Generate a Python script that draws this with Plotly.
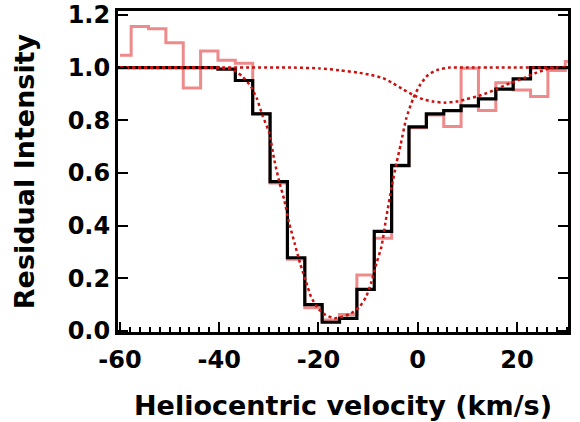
import plotly.graph_objects as go

# ---- data ----
bin_centers = [-59.5, -56, -52.5, -49, -45.5, -42, -38.5, -35, -31.5, -28, -24.5, -21,
               -17.5, -14, -10.5, -7, -3.5, 0, 3.5, 7, 10.5, 14, 17.5, 21, 24.5, 28, 31.5]
bin_width = 3.5

black_intensity = [1.0, 1.0, 1.0, 1.0, 1.0, 1.0, 0.994, 0.951, 0.824, 0.567, 0.278, 0.100,
                   0.033, 0.048, 0.158, 0.378, 0.628, 0.775, 0.824, 0.837, 0.855, 0.881,
                   0.918, 0.957, 1.0, 1.0, 1.0]

pink_start = -60.0
pink_intensity = [1.047, 1.156, 1.148, 1.094, 0.923, 1.063, 1.028, 1.017, 0.826, 0.562,
                  0.272, 0.088, 0.042, 0.062, 0.212, 0.352, 0.630, 0.772, 0.820, 0.776,
                  0.998, 0.837, 0.943, 0.915, 0.890, 0.989, 1.023]

deep_model_v = [-60, -42, -40, -38, -36.6, -35.3, -33.6, -32.4, -31.3, -29.9, -28.9, -27.9,
                -26.9, -25.9, -24.8, -23.7, -22.5, -21.5, -20.1, -18.6, -16.8, -15.1, -13.4,
                -11.7, -10.4, -9.4, -8.3, -7.3, -6.3, -5.2, -4.3, -3.4, -2.3, -0.9, 0.5, 2.1,
                4.1, 6.5, 10, 30]
deep_model_i = [1.0, 1.0, 0.998, 0.995, 0.985, 0.966, 0.928, 0.882, 0.820, 0.751, 0.649, 0.567,
                0.498, 0.409, 0.333, 0.257, 0.187, 0.130, 0.086, 0.061, 0.048, 0.054, 0.067,
                0.092, 0.130, 0.181, 0.257, 0.320, 0.434, 0.55, 0.635, 0.71, 0.807, 0.883,
                0.935, 0.972, 0.992, 1.0, 1.0, 1.0]

broad_model_v = [-60, -25, -19.8, -15.8, -11.7, -9.4, -7.0, -5.0, -3.0, -0.9, 1.1, 3.1, 5.5,
                 7.8, 9.8, 11.9, 13.9, 15.9, 18.6, 21.3, 24.0, 26.7, 30]
broad_model_i = [1.0, 1.0, 0.997, 0.990, 0.980, 0.972, 0.960, 0.941, 0.918, 0.896, 0.880,
                 0.871, 0.867, 0.871, 0.880, 0.890, 0.903, 0.918, 0.941, 0.960, 0.981, 0.997,
                 1.0]

x_ticks = [-60, -40, -20, 0, 20]
x_tick_labels = ["-60", "-40", "-20", "0", "20"]
y_ticks = [0.0, 0.2, 0.4, 0.6, 0.8, 1.0, 1.2]
y_tick_labels = ["0.0", "0.2", "0.4", "0.6", "0.8", "1.0", "1.2"]


def step_xy(centers, values, width, start=None):
    edges = [c - width / 2 for c in centers] + [centers[-1] + width / 2]
    if start is not None:
        edges[0] = start
    return edges, list(values) + [values[-1]]


bx, by = step_xy(bin_centers, black_intensity, bin_width)
px, py = step_xy(bin_centers, pink_intensity, bin_width, start=pink_start)

fig = go.Figure()
fig.add_trace(go.Scatter(x=px, y=py, mode="lines", line=dict(shape="hv", color="#ee8a8a", width=3),
                         showlegend=False))
fig.add_trace(go.Scatter(x=bx, y=by, mode="lines", line=dict(shape="hv", color="black", width=3.2),
                         showlegend=False))
fig.add_trace(go.Scatter(x=deep_model_v, y=deep_model_i, mode="lines",
                         line=dict(color="#cc1111", width=2.5, dash="dot", shape="spline", smoothing=0.6),
                         showlegend=False))
fig.add_trace(go.Scatter(x=broad_model_v, y=broad_model_i, mode="lines",
                         line=dict(color="#cc1111", width=2.5, dash="dot", shape="spline", smoothing=0.6),
                         showlegend=False))

tick_font = dict(family="DejaVu Sans", size=24, color="black", weight="bold")
title_font = dict(family="DejaVu Sans", size=27, color="black", weight="bold")

fig.update_layout(
    width=580, height=422,
    margin=dict(l=118, r=12, t=11, b=90),
    paper_bgcolor="white", plot_bgcolor="white",
    xaxis=dict(range=[-60.4, 30.3], tickvals=x_ticks, ticktext=x_tick_labels, ticks="inside",
               ticklen=10, tickwidth=2, automargin=False, ticklabelstandoff=4,
               tickcolor="black", showline=True, linecolor="black", linewidth=3, mirror=True,
               showgrid=False, zeroline=False, tickfont=tick_font,
               minor=dict(dtick=2, ticks="inside", ticklen=5, tickwidth=1.5, tickcolor="black", showgrid=False),
               title=dict(text="Heliocentric velocity (km/s)", font=title_font, standoff=24)),
    yaxis=dict(range=[-0.004, 1.215], tickvals=y_ticks, ticktext=y_tick_labels, ticks="inside",
               ticklen=10, automargin=False,
               tickwidth=2, tickcolor="black", showline=True, linecolor="black", linewidth=3,
               mirror="ticks", showgrid=False, zeroline=False, tickfont=tick_font,
               title=dict(text="Residual Intensity", font=title_font, standoff=26)),
)

fig.write_html("out.html")
